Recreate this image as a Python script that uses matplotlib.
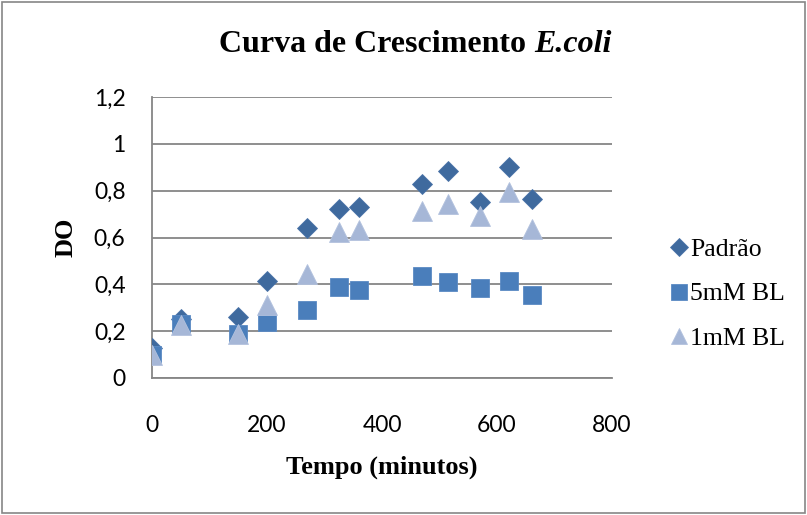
import matplotlib
matplotlib.use('Agg')
import matplotlib.pyplot as plt
from matplotlib.patches import Rectangle

# Data (tempo em minutos, DO)
tempo = [0, 50, 150, 200, 270, 325, 360, 470, 515, 570, 620, 660]
padrao = [0.13, 0.25, 0.26, 0.415, 0.64, 0.72, 0.73, 0.83, 0.885, 0.75, 0.90, 0.765]
bl_5mm = [0.10, 0.23, 0.19, 0.24, 0.29, 0.39, 0.375, 0.435, 0.41, 0.385, 0.415, 0.355]
bl_1mm = [0.10, 0.225, 0.19, 0.31, 0.445, 0.625, 0.63, 0.715, 0.745, 0.69, 0.795, 0.635]

series_names = ['Padrão', '5mM BL', '1mM BL']
yticks = [0, 0.2, 0.4, 0.6, 0.8, 1.0, 1.2]
ytick_labels = ['0', '0,2', '0,4', '0,6', '0,8', '1', '1,2']
xticks = [0, 200, 400, 600, 800]
xtick_labels = ['0', '200', '400', '600', '800']

serif = 'Liberation Serif'
sans = 'Lato'

fig = plt.figure(figsize=(8.07, 5.15), dpi=100)
ax = fig.add_axes([152/807, 1-378/515, 460/807, 281/515])

# grid and axes
ax.set_axisbelow(True)
ax.grid(True, axis='y', color='#868686', linewidth=1.3, zorder=1)
for s in ['top', 'right']:
    ax.spines[s].set_visible(False)
for s in ['left', 'bottom']:
    ax.spines[s].set_color('#868686')
    ax.spines[s].set_linewidth(1.3)

# series
ax.plot(tempo, padrao, linestyle='none', marker='D', markersize=10.2,
        color='#3F6A9E', markeredgecolor='#4A73A8', markeredgewidth=0.6, label=series_names[0], zorder=3)
ax.plot(tempo, bl_5mm, linestyle='none', marker='s', markersize=13.5,
        color='#4A7EBB', markeredgecolor='#5A8AC4', markeredgewidth=0.6, label=series_names[1], zorder=4)
ax.plot(tempo, bl_1mm, linestyle='none', marker='^', markersize=14,
        color='#A6B7D7', markeredgecolor='#B3C2DE', markeredgewidth=0.6, label=series_names[2], zorder=5)

ax.set_xlim(0, 800)
ax.set_ylim(0, 1.2)
ax.set_xticks(xticks)
ax.set_xticklabels(xtick_labels, fontsize=16.5, family=sans)
ax.set_yticks(yticks)
ax.set_yticklabels(ytick_labels, fontsize=16.5, family=sans)
ax.tick_params(axis='x', length=0, pad=27)
ax.tick_params(axis='y', length=0, pad=19)

# labels
ax.set_xlabel('Tempo (minutos)', family=serif, fontweight='bold', fontsize=19, labelpad=14)
ax.set_ylabel('DO', family=serif, fontweight='bold', fontsize=19, labelpad=12)

# title: bold part + bold italic part, centred together
t1 = fig.text(0, 1-45/515, 'Curva de Crescimento ', family=serif, fontweight='bold',
              fontsize=23, ha='left', va='center')
t2 = fig.text(0, 1-45/515, 'E.coli', family=serif, fontweight='bold', style='italic',
              fontsize=23, ha='left', va='center')
r = fig.canvas.get_renderer()
w1 = t1.get_window_extent(r).width
w2 = t2.get_window_extent(r).width
x0 = 415 - (w1 + w2) / 2
t1.set_x(x0 / 807)
t2.set_x((x0 + w1) / 807)

# legend
leg = ax.legend(loc='center left', bbox_to_anchor=(659/807, 1-294/515), bbox_transform=fig.transFigure,
                frameon=False, prop={'family': serif, 'size': 18.5}, markerscale=0.85,
                handlelength=0.55, handletextpad=0.15, labelspacing=0.85, borderpad=0)

# chart border
fig.patches.append(Rectangle((0.003, 0.004), 0.994, 0.992, transform=fig.transFigure,
                             fill=False, edgecolor='#868686', linewidth=1.2))

plt.savefig('out.png', dpi=100)
